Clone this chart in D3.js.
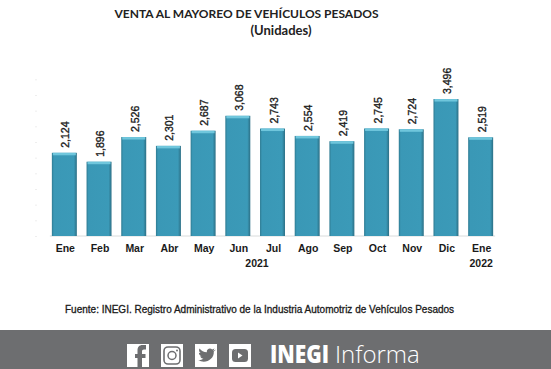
<!DOCTYPE html>
<html>
<head>
<meta charset="utf-8">
<script src="https://cdn.jsdelivr.net/npm/d3@7"></script>
<style>
html, body { margin: 0; padding: 0; background: #fff; }
svg { display: block; }
text { font-family: "Liberation Sans", Arial, sans-serif; fill: #1a1a1a; }
.title { font-family: "Lato", sans-serif; font-weight: 700; fill: #222; }
.val { font-size: 10.5px; font-weight: 400; stroke: #1a1a1a; stroke-width: 0.35px; }
.cat { font-size: 10.5px; font-weight: 700; }
.src { font-size: 10px; font-weight: 400; stroke: #1a1a1a; stroke-width: 0.3px; }
</style>
</head>
<body>
<div id="chart"></div>
<script>
const months = ['Ene', 'Feb', 'Mar', 'Abr', 'May', 'Jun', 'Jul', 'Ago', 'Sep', 'Oct', 'Nov', 'Dic', 'Ene'];
const values = [2124, 1896, 2526, 2301, 2687, 3068, 2743, 2554, 2419, 2745, 2724, 3496, 2519];
const years = [{ label: '2021', from: 0, to: 11 }, { label: '2022', from: 12, to: 12 }];
const faintTicks = d3.range(0, 4361, 400);

const outerW = 551,
	outerH = 369,
	margin = { left: 47, right: 53, top: 65, bottom: 133 };

const w = outerW - margin.left - margin.right,
	h = outerH - margin.top - margin.bottom;

const svg = d3.select('#chart').append('svg')
	.attr('width', outerW)
	.attr('height', outerH);

// bar shading
const defs = svg.append('defs');
const barFill = defs.append('linearGradient').attr('id', 'barFill');
[[0, '#2f7b92'], [0.08, '#3a98b6'], [0.88, '#3b9ab8'], [1, '#2c6f85']].forEach(s => {
	barFill.append('stop').attr('offset', s[0]).attr('stop-color', s[1]);
});

const x = d3.scaleBand()
	.domain(d3.range(months.length))
	.range([0, w])
	.paddingInner(0.28)
	.paddingOuter(0.14);

const y = d3.scaleLinear()
	.domain([0, 4365])
	.range([h, 0]);

const g = svg.append('g')
	.attr('transform', `translate(${margin.left}, ${margin.top})`);

// titles
svg.append('text').attr('class', 'title')
	.attr('x', 246.5).attr('y', 18).attr('text-anchor', 'middle')
	.style('font-size', '12px')
	.text('VENTA AL MAYOREO DE VEHÍCULOS PESADOS');
svg.append('text').attr('class', 'title')
	.attr('x', 281).attr('y', 35).attr('text-anchor', 'middle')
	.style('font-size', '13px')
	.text('(Unidades)');

// y axis is nearly invisible in the source, only faint specks
const yAxis = g.append('g')
	.attr('transform', 'translate(-10, 0)')
	.call(d3.axisLeft(y).tickValues(faintTicks).tickSize(2).tickFormat(''));
yAxis.select('.domain').remove();
yAxis.selectAll('line').attr('stroke', '#eeeeee');

// baseline
g.append('line')
	.attr('x1', x(0) - 2).attr('x2', x(12) + x.bandwidth() + 2)
	.attr('y1', y(0)).attr('y2', y(0))
	.attr('stroke', '#d9dcdc');

// bars
const bars = g.selectAll('.bar')
	.data(values)
	.enter().append('g')
	.attr('class', 'bar');

bars.append('rect')
	.attr('x', (d, i) => x(i))
	.attr('y', d => y(d))
	.attr('width', x.bandwidth())
	.attr('height', d => y(0) - y(d))
	.attr('fill', 'url(#barFill)');

bars.append('rect')
	.attr('x', (d, i) => x(i) + 1)
	.attr('y', d => y(d))
	.attr('width', x.bandwidth() - 2)
	.attr('height', 2.5)
	.attr('fill', '#6fc6dc');

// value labels
g.selectAll('.val')
	.data(values)
	.enter().append('text')
	.attr('class', 'val')
	.attr('transform', (d, i) => `translate(${x(i) + x.bandwidth() / 2 + 5}, ${y(d) - 5}) rotate(-90)`)
	.text(d => d3.format(',')(d));

// month labels
g.selectAll('.cat')
	.data(months)
	.enter().append('text')
	.attr('class', 'cat')
	.attr('x', (d, i) => x(i) + x.bandwidth() / 2 + 1)
	.attr('y', y(0) + 16)
	.attr('text-anchor', 'middle')
	.text(d => d);

g.selectAll('.year')
	.data(years)
	.enter().append('text')
	.attr('class', 'cat year')
	.attr('x', d => d.from === d.to ? x(d.from) + x.bandwidth() / 2 + 0.5 : 257 - margin.left)
	.attr('y', y(0) + 31)
	.attr('text-anchor', 'middle')
	.text(d => d.label);

svg.append('text').attr('class', 'src')
	.attr('x', 65).attr('y', 313)
	.text('Fuente: INEGI. Registro Administrativo de la Industria Automotriz de Vehículos Pesados');

// footer band
const footer = svg.append('g');
footer.append('rect')
	.attr('x', 0).attr('y', 330).attr('width', outerW).attr('height', 39)
	.attr('fill', '#6d6e70');

const iconX = [127, 161, 195, 229];
footer.selectAll('.icon')
	.data(iconX)
	.enter().append('rect')
	.attr('x', d => d).attr('y', 344)
	.attr('width', 22).attr('height', 23)
	.attr('fill', '#fff');

// facebook
footer.append('path')
	.attr('d', 'M142 367v-9h3.5v-4H142v-2.500c0-1.300.7-2 2-2h2V345h-3.500c-3.400 0-5 2.200-5 5.500v3.500H135v4h2.500v9z')
	.attr('fill', '#6d6e70');
// instagram
footer.append('rect')
	.attr('x', 164).attr('y', 347).attr('width', 16).attr('height', 17).attr('rx', 4)
	.attr('fill', 'none').attr('stroke', '#6d6e70').attr('stroke-width', 1.6);
footer.append('circle')
	.attr('cx', 172).attr('cy', 355.5).attr('r', 4)
	.attr('fill', 'none').attr('stroke', '#6d6e70').attr('stroke-width', 1.5);
footer.append('circle')
	.attr('cx', 177).attr('cy', 350.5).attr('r', 1)
	.attr('fill', '#6d6e70');
// twitter
footer.append('path')
	.attr('d', 'M215 350c-.8.4-1.500.6-2.200.7.8-.5 1.400-1.200 1.700-2.100-.7.4-1.600.8-2.400.9-1.600-1.800-5.600-.9-5.300 2.700-3-.1-5.500-1.500-7.300-3.700-.9 1.600-.4 3.600 1.100 4.600-.6 0-1.200-.2-1.700-.4 0 1.700 1.200 3.100 2.800 3.500-.5.1-1 .1-1.500 0 .5 1.400 1.800 2.300 3.200 2.400-1.500 1.200-3.200 1.700-5.100 1.500 6.500 4.200 16-.2 15.500-8.500.9-.6 1.600-1.300 2.200-2.100z')
	.attr('fill', '#6d6e70');
// youtube
footer.append('rect')
	.attr('x', 232).attr('y', 349).attr('width', 16).attr('height', 13).attr('rx', 3.5)
	.attr('fill', '#6d6e70');
footer.append('path')
	.attr('d', 'M238 352.500v6l4.500-3z')
	.attr('fill', '#fff');

footer.append('text')
	.attr('x', 270).attr('y', 363)
	.attr('textLength', 59)
	.attr('lengthAdjust', 'spacingAndGlyphs')
	.style('font-family', '"Open Sans", sans-serif')
	.style('font-weight', 800)
	.style('font-size', '24px')
	.style('fill', '#fff')
	.text('INEGI');
footer.append('text')
	.attr('x', 335).attr('y', 363)
	.style('font-family', '"Open Sans", sans-serif')
	.style('font-weight', 300)
	.style('font-size', '24px')
	.style('fill', '#fff')
	.text('Informa');
</script>
</body>
</html>
